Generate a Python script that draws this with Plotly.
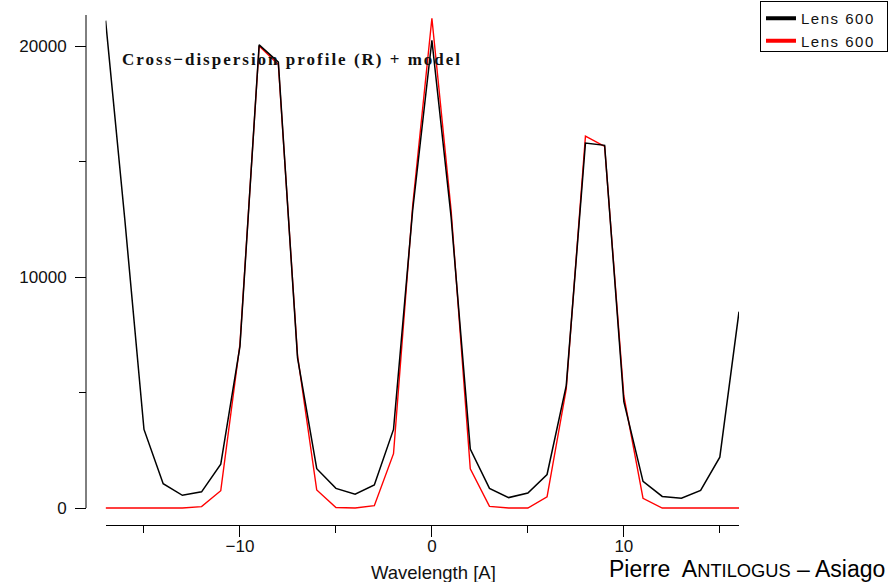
import plotly.graph_objects as go

# ---- data ----
wavelength = list(range(-17, 17))
profile_data = [21100, 12500, 3400, 1050, 550, 700, 1900, 7000, 20050, 19300,
                6500, 1700, 850, 600, 1000, 3400, 12900, 20250, 12600, 2550,
                850, 450, 650, 1450, 5300, 15800, 15700, 4600, 1150, 500,
                420, 760, 2200, 8500]
profile_model = [0, 0, 0, 0, 0, 60, 750, 7100, 20000, 19200,
                 6600, 780, 20, 0, 100, 2350, 13100, 21200, 12900, 1700,
                 70, 0, 0, 480, 5150, 16100, 15650, 4850, 420, 0,
                 0, 0, 0, 0]
legend_names = ["Lens 600", "Lens 600"]
y_major = [0, 10000, 20000]
y_minor = [5000, 15000]
x_major = [-10, 0, 10]
x_labels = ["\u221210", "0", "10"]
x_minor = [-15, -5, 5, 15]

W, H = 889, 582
L, R, T, B = 86, 150, 15, 57
pw, ph = W - L - R, H - T - B

SANS = "Liberation Sans, Arial, Helvetica, sans-serif"
SERIF = "Liberation Serif, Times New Roman, serif"

fig = go.Figure()
fig.add_trace(go.Scatter(x=wavelength, y=profile_model, mode="lines",
                         line=dict(color="#ff0000", width=1.4), showlegend=False))
fig.add_trace(go.Scatter(x=wavelength, y=profile_data, mode="lines",
                         line=dict(color="#000000", width=1.5), showlegend=False))
# legend entries (thick samples)
fig.add_trace(go.Scatter(x=[None], y=[None], mode="lines", name=legend_names[0],
                         line=dict(color="#000000", width=4)))
fig.add_trace(go.Scatter(x=[None], y=[None], mode="lines", name=legend_names[1],
                         line=dict(color="#ff0000", width=4)))

ytop = 21342
ybot = -736

fig.update_layout(
    template="none",
    width=W, height=H, autosize=False,
    margin=dict(l=L, r=R, t=T, b=B, pad=0, autoexpand=False),
    paper_bgcolor="white", plot_bgcolor="white",
    font=dict(family=SANS, size=17, color="#111111"),
    showlegend=True,
    legend=dict(xref="container", yref="container",
                x=760 / W, y=1 - 1 / H, xanchor="left", yanchor="top",
                bordercolor="black", borderwidth=1, bgcolor="white",
                font=dict(family=SANS, size=15, color="#111111"),
                traceorder="normal"),
    xaxis=dict(domain=[(105.6 - L) / pw, 1], range=[-17, 16], anchor="y", automargin=False,
               showgrid=False, zeroline=False, showline=True, linecolor="black", linewidth=1,
               ticks="outside", ticklen=11, tickcolor="black", tickwidth=1,
               ticklabelstandoff=-5,
               tickvals=x_major, ticktext=x_labels,
               tickfont=dict(family=SANS, size=17, color="#111111"),
               minor=dict(tickvals=x_minor, ticks="outside", ticklen=7, tickcolor="black", tickwidth=1, showgrid=False)),
    yaxis=dict(domain=[0, 1], range=[ybot, ytop], anchor="free", position=0, automargin=False,
               showgrid=False, zeroline=False, showline=False,
               ticks="outside", ticklen=11, tickcolor="black", tickwidth=1,
               ticklabelstandoff=5,
               tickvals=y_major, ticktext=[str(v) for v in y_major],
               tickfont=dict(family=SANS, size=17, color="#111111"),
               minor=dict(tickvals=y_minor, ticks="outside", ticklen=7, tickcolor="black", tickwidth=1, showgrid=False)),
    shapes=[dict(type="line", xref="paper", yref="y", x0=0, x1=0, y0=0, y1=ytop,
                 line=dict(color="black", width=1))],
    annotations=[
        dict(text="<b>Cross\u2212dispersion profile (R) + model</b>", xref="paper", yref="paper",
             x=(292 - L) / pw, y=(H - B - 59) / ph, xanchor="center", yanchor="middle",
             showarrow=False, font=dict(family=SERIF, size=17, color="#111111")),
        dict(text="Wavelength [A]", xref="paper", yref="paper",
             x=(433 - L) / pw, y=(H - B - 572) / ph, xanchor="center", yanchor="middle",
             showarrow=False, font=dict(family=SANS, size=18.5, color="#111111")),
        dict(text="Pierre\u2002A<span style='font-size:18.3px'>NTILOGUS</span> \u2013 Asiago",
             xref="paper", yref="paper",
             x=(607 - L) / pw, y=(H - B - 569) / ph, xanchor="left", yanchor="middle",
             showarrow=False, font=dict(family=SANS, size=23, color="#000000")),
    ],
)

post = """
document.body.style.margin = '0';
document.body.style.padding = '0';
document.documentElement.style.overflow = 'hidden';
var gd = document.getElementById('{plot_id}');
gd.querySelectorAll('.annotation-text').forEach(function(t){
  if (t.textContent.indexOf('Cross') === 0) { t.style.letterSpacing = '2px'; }
});
gd.querySelectorAll('.legendtext').forEach(function(t){
  t.style.letterSpacing = '1.5px';
});
var bg = gd.querySelector('.legend rect.bg');
if (bg) { bg.setAttribute('width', 127); bg.setAttribute('height', 50); }
gd.querySelectorAll('clipPath[id^="legend"] rect').forEach(function(r){
  r.setAttribute('width', 125); r.setAttribute('height', 48);
});
"""
fig.write_html("out.html", post_script=post, config={"displayModeBar": False})
